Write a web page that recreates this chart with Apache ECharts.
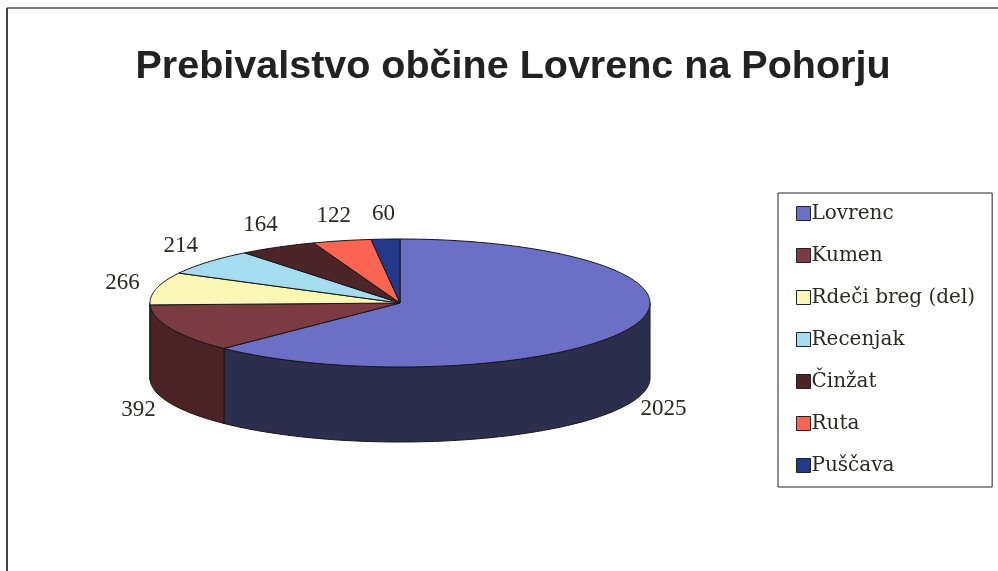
<!DOCTYPE html>
<html>
<head>
<meta charset="utf-8">
<title>Prebivalstvo občine Lovrenc na Pohorju</title>
<script src="https://cdn.jsdelivr.net/npm/echarts@6/dist/echarts.min.js"></script>
<style>
  html, body { margin: 0; padding: 0; background: #fff; }
  #main { width: 998px; height: 571px; }
</style>
</head>
<body>
<div id="main"></div>
<script>
// podatki
var names = ['Lovrenc', 'Kumen', 'Rdeči breg (del)', 'Recenjak', 'Činžat', 'Ruta', 'Puščava'];
var values = [2025, 392, 266, 214, 164, 122, 60];
// barve (zgoraj / stranica)
var topColors = ['#6b70c6', '#7b3b42', '#f9f7b3', '#a6dcf0', '#4d2529', '#fd6552', '#22388a'];
var sideColors = ['#2c2e4e', '#4b2326', '#c9c78a', '#6fa9bd', '#2e1416', '#b8403a', '#14225a'];

var chart = echarts.init(document.getElementById('main'));

// geometrija 3D torte
var CX = 400, CY = 303, RX = 250, RY = 64, DEPTH = 75;
var total = values.reduce(function (a, b) { return a + b; }, 0);

function pt(deg, dy) {
    var r = deg * Math.PI / 180;
    return [CX + RX * Math.sin(r), CY - RY * Math.cos(r) + (dy || 0)];
}

function arc(a, b, dy) {
    var pts = [], n = Math.max(2, Math.ceil(Math.abs(b - a)));
    for (var k = 0; k <= n; k++) pts.push(pt(a + (b - a) * k / n, dy));
    return pts;
}

function makeRender(idx) {
    return function (params, api) {
        var before = 0;
        for (var j = 0; j < idx; j++) before += values[j];
        var v = api.value(0);
        var a1 = before / total * 360, a2 = (before + v) / total * 360;
        var children = [];
        // stranica (samo sprednja polovica)
        var s1 = Math.max(a1, 90), s2 = Math.min(a2, 270);
        if (s2 > s1) {
            var side = arc(s1, s2, 0).concat(arc(s2, s1, DEPTH));
            children.push({
                type: 'polygon',
                shape: { points: side },
                style: { fill: sideColors[idx], stroke: '#151515', lineWidth: 1 }
            });
        }
        // zgornja ploskev
        var top = [[CX, CY]].concat(arc(a1, a2, 0));
        children.push({
            type: 'polygon',
            shape: { points: top },
            style: { fill: topColors[idx], stroke: '#151515', lineWidth: 1 }
        });
        // oznaka
        var m = (a1 + a2) / 2 * Math.PI / 180;
        var lx = CX + (RX + 35) * Math.sin(m);
        var ly = CY - (RY + 25) * Math.cos(m) + (Math.cos(m) < 0 ? DEPTH - 3 : 0);
        children.push({
            type: 'text',
            x: lx, y: ly,
            style: {
                text: String(v),
                fill: '#2a2a22',
                font: '23px "Liberation Serif"',
                align: 'center',
                verticalAlign: 'middle'
            }
        });
        return { type: 'group', children: children };
    };
}

var series = [];
names.forEach(function (n, i) {
    series.push({
        name: n,
        type: 'custom',
        coordinateSystem: 'none',
        itemStyle: { color: topColors[i] },
        renderItem: makeRender(i),
        data: [[values[i]]],
        silent: true
    });
});

var option = {
    backgroundColor: '#fff',
    animation: false,
    title: {
        text: 'Prebivalstvo občine Lovrenc na Pohorju',
        left: 508,
        textAlign: 'center',
        top: 42,
        textStyle: {
            fontFamily: 'Liberation Sans',
            fontWeight: 'bold',
            fontSize: 39.5,
            color: '#222'
        }
    },
    legend: {
        orient: 'vertical',
        left: 778,
        top: 193,
        padding: [10, 17, 11, 18],
        itemGap: 21,
        itemWidth: 14,
        itemHeight: 14,
        icon: 'rect',
        selectedMode: false,
        borderColor: '#222',
        borderWidth: 1,
        itemStyle: { borderColor: '#222', borderWidth: 1 },
        textStyle: {
            fontFamily: 'DejaVu Serif',
            fontSize: 20,
            lineHeight: 21,
            color: '#2a2a22',
            padding: [0, 0, 0, -4]
        },
        data: names
    },
    graphic: [
        { type: 'line', shape: { x1: 7, y1: 8, x2: 7, y2: 571 }, style: { stroke: '#444', lineWidth: 2 } },
        { type: 'line', shape: { x1: 7, y1: 8, x2: 998, y2: 8 }, style: { stroke: '#555', lineWidth: 1.5 } }
    ],
    series: series
};

chart.setOption(option);
</script>
</body>
</html>
